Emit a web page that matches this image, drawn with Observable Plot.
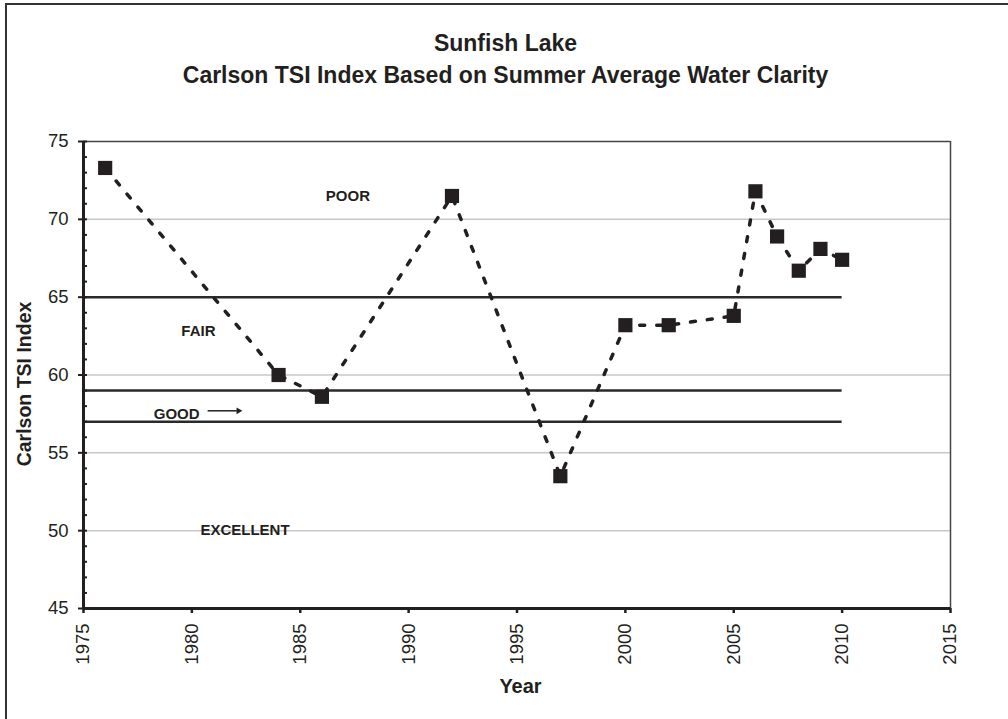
<!DOCTYPE html>
<html><head><meta charset="utf-8">
<script src="https://cdn.jsdelivr.net/npm/d3@7"></script>
<script src="https://cdn.jsdelivr.net/npm/@observablehq/plot@0.6"></script>
<style>
html,body{margin:0;padding:0;background:#fff;}
#wrap{position:relative;width:1008px;height:719px;overflow:hidden;}
#border{position:absolute;left:5px;top:3px;right:-10px;bottom:-10px;border-left:2px solid #333;border-top:2px solid #333;pointer-events:none;}
svg{display:block;}
</style></head><body><div id="wrap"><div id="border"></div></div>
<script>
const years = [1976, 1984, 1986, 1992, 1997, 2000, 2002, 2005, 2006, 2007, 2008, 2009, 2010];
const tsi = [73.3, 60.0, 58.6, 71.5, 53.5, 63.2, 63.2, 63.8, 71.8, 68.9, 66.7, 68.1, 67.4];
const xTicks = [1975, 1980, 1985, 1990, 1995, 2000, 2005, 2010, 2015];
const yTicks = [45, 50, 55, 60, 65, 70, 75];
const yMinor = d3.range(46, 76, 1);
const gridValues = [50, 55, 60, 70];
const boundaries = [65, 59, 57];
const boundaryStart = 1975, boundaryEnd = 2010;
const zoneLabels = ["POOR", "FAIR", "GOOD", "EXCELLENT"];
const zoneX = [1987.2, 1980.3, 1979.3, 1982.45];
const zoneY = [71.5, 62.8, 57.5, 50.0];
const arrowX1 = [1980.75], arrowX2 = [1982.1], arrowHeadX = [1982.15], arrowY = [57.7];
const title1 = "Sunfish Lake";
const title2 = "Carlson TSI Index Based on Summer Average Water Clarity";
const xLabel = "Year";
const yLabel = "Carlson TSI Index";

const data = years.map((year, i) => ({year, tsi: tsi[i]}));
const ink = "#231f20";

const chart = Plot.plot({
  width: 1008, height: 719,
  marginLeft: 83, marginRight: 58, marginTop: 141, marginBottom: 111,
  style: {fontFamily: "'Liberation Sans', Arial, sans-serif", background: "transparent", color: ink},
  x: {domain: [1975, 2015], label: null},
  y: {domain: [45, 75], label: null},
  marks: [
    Plot.gridY(gridValues, {stroke: "#c8c8c8", strokeOpacity: 1, strokeWidth: 1.5}),
    Plot.ruleY([75], {stroke: "#444", strokeWidth: 1.5}),
    Plot.ruleX([2015], {stroke: "#444", strokeWidth: 1.5}),
    Plot.ruleY(boundaries, {x1: boundaryStart, x2: boundaryEnd, stroke: "#2a2a2a", strokeWidth: 2.5}),
    Plot.tickY(yMinor, {stroke: ink, strokeWidth: 2, insetRight: 863}),
    Plot.axisY({ticks: yTicks, tickSize: 5, tickPadding: 10, fontSize: 18.5, strokeWidth: 2, label: null}),
    Plot.axisX({ticks: xTicks, tickFormat: "d", tickRotate: -90, tickSize: 5, tickPadding: 10, fontSize: 18.5, strokeWidth: 2.5, label: null}),
    Plot.ruleX([1975], {stroke: ink, strokeWidth: 3}),
    Plot.ruleY([45], {stroke: ink, strokeWidth: 3}),
    Plot.line(data, {x: "year", y: "tsi", stroke: ink, strokeWidth: 3.5, strokeDasharray: "5,12"}),
    Plot.dot(data, {x: "year", y: "tsi", symbol: "square", r: 8, fill: ink, stroke: "none"}),
    Plot.text(zoneLabels, {x: (d, i) => zoneX[i], y: (d, i) => zoneY[i], text: d => d, fontSize: 15, fontWeight: "bold", fill: ink}),
    Plot.ruleY(arrowY, {x1: (d, i) => arrowX1[i], x2: (d, i) => arrowX2[i], y: d => d, stroke: ink, strokeWidth: 1.5}),
    Plot.dot(arrowY, {x: (d, i) => arrowHeadX[i], y: d => d, symbol: "triangle2", rotate: 90, r: 3.2, fill: ink, stroke: "none"}),
    Plot.text([title1], {frameAnchor: "top", lineAnchor: "middle", dy: -98, dx: -11.5, fontSize: 23, fontWeight: "bold", fill: ink}),
    Plot.text([title2], {frameAnchor: "top", lineAnchor: "middle", dy: -66, dx: -11.5, fontSize: 23, fontWeight: "bold", fill: ink}),
    Plot.text([yLabel], {frameAnchor: "left", textAnchor: "middle", rotate: -90, dx: -58.5, dy: 9, fontSize: 19.5, fontWeight: "bold", fill: ink}),
    Plot.text([xLabel], {frameAnchor: "bottom", lineAnchor: "middle", dy: 78, dx: 3.5, fontSize: 20, fontWeight: "bold", fill: ink})
  ]
});
document.getElementById("wrap").prepend(chart);
</script>
</body></html>
